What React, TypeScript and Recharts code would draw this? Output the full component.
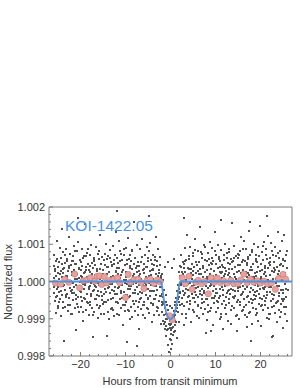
import { ComposedChart, Scatter, XAxis, YAxis, ReferenceLine } from 'recharts';

// raw photometry: [hour * 10, flux offset in ppm]
const RAW_POINTS: number[][] = [
  [-260,420],[-259,-310],[-259,90],[-258,710],[-257,-520],[-257,-60],[-256,330],[-255,-840],[-255,150],[-254,560],[-253,-200],[-253,1080],[-252,-390],[-251,240],[-251,-660],
  [-250,-150],[-249,380],[-249,-720],[-248,60],[-247,520],[-247,-280],[-246,910],[-245,-30],[-245,-460],[-244,270],[-243,-930],[-243,640],[-242,110],[-241,-350],[-241,1420],
  [-240,230],[-239,-560],[-239,780],[-238,-120],[-237,350],[-237,-1590],[-236,40],[-235,490],[-235,-240],[-234,-680],[-233,160],[-233,870],[-232,-410],[-231,-20],[-231,560],
  [-230,-340],[-229,120],[-229,610],[-228,-790],[-227,280],[-227,-70],[-226,1190],[-225,-450],[-225,370],[-224,-180],[-223,750],[-223,-620],[-222,20],[-221,430],[-221,-260],
  [-220,540],[-219,-230],[-219,-880],[-218,170],[-217,690],[-217,-40],[-216,-510],[-215,310],[-215,950],[-214,-300],[-213,60],[-213,-720],[-212,480],[-211,-1300],[-211,200],
  [-210,-90],[-209,460],[-209,-370],[-208,820],[-207,-600],[-207,210],[-206,-150],[-206,1700],[-205,1060],[-205,-410],[-204,330],[-203,-830],[-203,90],[-202,590],[-201,-250],[-201,-10],
  [-200,310],[-199,-690],[-199,140],[-198,-270],[-197,880],[-197,-520],[-196,420],[-195,-60],[-195,-1050],[-194,620],[-193,-190],[-193,240],[-192,-440],[-191,1550],[-191,70],
  [-190,-470],[-189,250],[-189,-100],[-188,680],[-187,-760],[-187,390],[-186,-330],[-185,130],[-185,770],[-184,-580],[-183,-20],[-183,460],[-182,-900],[-181,300],[-181,-150],
  [-180,700],[-179,-120],[-179,-540],[-178,260],[-177,-30],[-177,990],[-176,-380],[-175,510],[-175,-720],[-174,80],[-173,-260],[-173,360],[-172,-1490],[-171,630],[-171,-60],
  [-170,-230],[-169,570],[-169,-810],[-168,180],[-167,430],[-167,-460],[-166,60],[-165,-150],[-165,920],[-164,-640],[-163,290],[-163,-350],[-162,740],[-161,-40],[-161,-980],
  [-160,150],[-159,-400],[-159,830],[-158,-90],[-157,-670],[-157,340],[-156,1240],[-155,-280],[-155,480],[-154,-860],[-153,20],[-153,650],[-152,-510],[-151,200],[-151,-130],
  [-150,-610],[-149,310],[-149,-40],[-148,590],[-147,-330],[-147,-880],[-146,170],[-145,440],[-145,-210],[-144,1010],[-143,-560],[-143,90],[-142,-1460],[-141,380],[-141,610],
  [-140,390],[-139,-170],[-139,690],[-138,-510],[-137,70],[-137,-1000],[-136,260],[-135,-320],[-135,840],[-134,-60],[-133,530],[-133,-750],[-132,120],[-131,-240],[-131,450],
  [-130,-80],[-129,-700],[-129,410],[-128,160],[-127,-430],[-127,960],[-126,-260],[-125,590],[-125,-930],[-124,30],[-123,-150],[-123,720],[-122,-560],[-121,280],[-121,1330],
  [-120,640],[-120,1880],[-119,-330],[-119,-20],[-118,-860],[-117,500],[-117,210],[-116,-590],[-115,1090],[-115,-140],[-114,370],[-113,-460],[-113,90],[-112,820],[-111,-710],[-111,-250],
  [-110,-300],[-109,180],[-109,750],[-108,-450],[-107,-90],[-107,580],[-106,-1170],[-105,310],[-105,-620],[-104,860],[-103,40],[-103,-270],[-102,430],[-101,-30],[-101,-800],
  [-100,260],[-99,-540],[-99,120],[-98,890],[-97,-350],[-97,-60],[-96,470],[-96,-1620],[-95,-760],[-95,200],[-94,1180],[-93,-420],[-93,-130],[-92,610],[-91,-1000],[-91,350],
  [-90,-400],[-89,720],[-89,-210],[-88,30],[-87,540],[-87,-690],[-86,340],[-85,-950],[-85,820],[-84,-80],[-83,-300],[-83,150],[-82,-600],[-81,480],[-81,1610],
  [-80,90],[-79,-220],[-79,620],[-78,-780],[-77,370],[-77,-20],[-76,-520],[-75,990],[-75,-150],[-74,260],[-74,-1730],[-73,-890],[-73,530],[-72,-340],[-71,140],[-71,-1280],
  [-70,-560],[-69,410],[-69,-100],[-68,860],[-67,-270],[-67,190],[-66,-740],[-65,60],[-65,-430],[-64,670],[-63,1150],[-63,-320],[-62,310],[-61,-60],[-61,-620],
  [-60,470],[-59,-130],[-59,-620],[-58,240],[-57,-980],[-57,720],[-56,-40],[-55,380],[-55,-350],[-54,120],[-53,-710],[-53,930],[-52,-200],[-51,560],[-51,-450],
  [-50,-190],[-49,620],[-49,-480],[-48,-30],[-48,1750],[-47,830],[-47,-840],[-46,290],[-45,-260],[-45,1040],[-44,-570],[-43,170],[-43,-90],[-42,480],[-41,-1090],[-41,300],
  [-40,340],[-39,-610],[-39,80],[-38,720],[-37,-260],[-37,-900],[-36,450],[-35,-130],[-35,590],[-34,-470],[-33,210],[-33,1200],[-32,-350],[-31,20],[-31,-780],
  [-30,-220],[-29,560],[-29,-680],[-28,160],[-27,-40],[-27,880],[-26,-520],[-25,310],[-25,-900],[-24,430],[-23,-150],[-23,650],[-22,-380],[-21,90],[-21,-1130],
  [-20,-150],[-20,-560],[-19,200],[-19,-820],[-18,-340],[-17,-610],[-17,40],[-16,-1050],[-16,-420],[-15,-230],[-14,-900],[-14,-560],[-13,-1280],[-13,380],[-12,-700],[-12,-1100],[-11,-360],
  [-10,-1200],[-10,-560],[-9,-880],[-9,-1450],[-8,-1020],[-7,-640],[-7,-1310],[-6,-930],[-6,520],[-5,-1700],[-5,-760],[-4,-1140],[-3,-1880],[-3,-990],[-2,-1250],[-2,-650],[-1,-1540],[-1,-1060],
  [0,-1310],[0,-1820],[1,-980],[1,-1560],[2,-1140],[3,-700],[3,-1690],[4,-1250],[4,350],[5,-910],[5,-1430],[6,-1050],[7,-780],[7,-1360],[8,-950],[8,600],[9,-620],[9,-1180],
  [10,-900],[10,-1340],[11,-560],[12,-1100],[12,-430],[13,-780],[14,-250],[14,-1520],[15,-620],[16,-90],[16,-470],[17,-830],[18,-200],[18,260],[19,-540],[19,-1100],
  [20,-300],[21,420],[22,-620],[22,150],[23,-90],[24,710],[24,-40],[25,-450],[25,260],[26,-880],[27,80],[27,530],[28,-250],[29,-1180],[29,360],[29,1700],
  [30,-120],[30,480],[31,-660],[32,250],[32,890],[33,-310],[34,30],[34,-970],[35,570],[35,-200],[36,140],[37,-540],[37,1250],[38,-60],[39,370],[39,-420],
  [40,600],[40,-380],[41,110],[42,-750],[42,330],[43,-50],[44,920],[44,-610],[45,240],[45,-230],[46,-1080],[47,470],[47,60],[48,-330],[49,760],[49,-170],
  [50,-450],[50,170],[51,690],[52,-90],[52,-820],[53,380],[54,-270],[54,1130],[55,-560],[55,20],[56,520],[57,-350],[57,230],[58,-920],[59,-30],[59,440],
  [60,280],[60,-620],[61,-140],[62,830],[62,-410],[63,60],[64,-990],[64,520],[65,-250],[65,340],[66,1470],[67,-700],[67,-60],[68,190],[69,-480],[69,630],
  [70,-350],[70,750],[71,-200],[72,120],[72,-860],[73,410],[74,-40],[74,-540],[75,970],[75,-310],[76,250],[77,-730],[77,580],[78,-120],[79,-1390],[79,80],
  [80,130],[80,-470],[81,560],[82,-1040],[82,300],[83,-180],[84,760],[84,-630],[85,-20],[85,430],[86,-330],[87,1060],[87,-800],[88,210],[89,-90],[89,490],[89,-1320],
  [90,-720],[90,340],[91,-60],[92,630],[92,-450],[93,890],[94,-260],[94,160],[95,-1180],[95,550],[96,-120],[97,270],[97,-590],[98,1340],[99,20],[99,-380],
  [100,470],[100,-210],[101,-830],[102,180],[102,710],[103,-520],[104,40],[104,-300],[105,990],[105,-700],[106,360],[107,-60],[107,-440],[108,610],[109,-1010],[109,250],
  [110,-30],[110,560],[111,-390],[112,-940],[112,220],[112,1650],[113,850],[114,-160],[114,450],[115,-610],[115,100],[116,-1270],[117,390],[117,-240],[118,720],[119,-530],[119,140],
  [120,360],[120,-700],[121,190],[122,-120],[122,1010],[123,-420],[124,-880],[124,280],[125,-60],[125,640],[126,-320],[127,510],[127,-1060],[128,170],[129,-230],[129,870],
  [130,-580],[130,220],[131,790],[132,-330],[132,-30],[133,470],[134,-1140],[134,610],[135,-200],[135,90],[136,-660],[137,330],[137,1560],[138,-410],[139,-110],[139,540],
  [140,210],[140,-450],[141,-90],[142,960],[142,-720],[143,380],[144,-260],[144,120],[145,-930],[145,680],[146,-20],[147,-540],[147,260],[148,-1320],[149,750],[149,-180],
  [150,-260],[150,640],[151,-510],[152,70],[152,-1010],[153,290],[154,820],[154,-150],[155,-640],[155,430],[156,-360],[157,1190],[157,-40],[158,180],[159,-780],[159,530],
  [160,590],[160,-110],[161,-760],[162,320],[162,-290],[163,1080],[164,-470],[164,40],[165,-890],[165,560],[166,-190],[167,250],[167,-620],[168,880],[169,-1230],[169,130],
  [170,-140],[170,430],[171,-950],[172,230],[172,670],[173,-380],[174,-60],[174,1350],[175,-560],[175,170],[176,-270],[176,1600],[177,720],[177,-830],[178,390],[178,-1590],[179,-10],[179,-470],
  [180,320],[180,-580],[181,120],[182,-1130],[182,850],[183,-220],[184,480],[184,-700],[185,60],[185,-350],[186,1020],[187,-480],[187,240],[188,-90],[189,610],[189,-910],
  [190,-400],[190,150],[191,710],[192,-260],[192,-840],[193,530],[194,-120],[194,380],[195,-1050],[195,920],[196,-330],[197,30],[197,-600],[198,270],[199,1480],[199,-210],
  [200,80],[200,-670],[201,460],[202,-30],[202,-1200],[203,320],[204,-470],[204,790],[205,-180],[205,590],[206,-760],[207,210],[207,-380],[208,1060],[209,-50],[209,410],
  [210,-620],[210,260],[211,-140],[212,880],[212,-430],[213,140],[214,-980],[214,600],[214,1750],[215,-290],[215,-20],[216,370],[217,-710],[217,1210],[218,-160],[219,490],[219,-1010],
  [220,450],[220,-290],[221,-870],[222,170],[222,640],[223,-530],[224,-90],[224,1040],[225,-340],[225,280],[226,-690],[226,-1500],[227,80],[227,-1450],[228,720],[229,-200],[229,350],
  [230,-180],[230,520],[231,-360],[232,-840],[232,310],[233,930],[234,-570],[234,60],[235,-250],[235,680],[236,-1080],[237,400],[237,-120],[238,-520],[239,1330],[239,190],
  [240,270],[240,-760],[241,640],[242,-110],[242,-390],[243,160],[244,-950],[244,820],[245,-230],[245,470],[246,-600],[247,1100],[247,30],[248,-480],[249,-1250],[249,580],
  [250,-310],[250,410],[251,-520],[252,130],[252,1260],[253,-680],[254,-70],[254,550],[255,-880],[255,240],[256,-190],[257,700],[257,-420],[258,-1050],[259,360],[259,60],
];

// second batch of cadences in the same window: [hour * 10, flux offset in ppm]
const RAW_POINTS_B: number[][] = [
  [-258,-150],[-256,270],[-254,-420],[-252,610],[-250,-30],[-248,-560],[-246,190],[-244,-260],[-242,480],[-240,-700],
  [-238,330],[-236,-90],[-234,720],[-232,-350],[-230,150],[-228,-620],[-226,410],[-224,-40],[-222,-880],[-220,260],
  [-218,-310],[-216,560],[-214,-140],[-212,830],[-210,-480],[-208,60],[-206,-690],[-204,350],[-202,-220],[-200,520],
  [-198,-410],[-196,120],[-194,-820],[-192,680],[-190,-60],[-188,300],[-186,-540],[-184,860],[-182,-200],[-180,-640],
  [-178,420],[-176,-330],[-174,190],[-172,-910],[-170,540],[-168,-120],[-166,-480],[-164,330],[-162,-260],[-160,610],
  [-158,-720],[-156,80],[-154,460],[-152,-380],[-150,-20],[-148,-560],[-146,730],[-144,-290],[-142,210],[-140,-820],
  [-138,390],[-136,-140],[-134,620],[-132,-470],[-130,110],[-128,-760],[-126,480],[-124,-330],[-122,260],[-120,-560],
  [-118,350],[-116,-180],[-114,-900],[-112,540],[-110,-90],[-108,260],[-106,-450],[-104,700],[-102,-640],[-100,30],
  [-98,-360],[-96,590],[-94,-210],[-92,-780],[-90,420],[-88,-130],[-86,850],[-84,-520],[-82,190],[-80,-310],
  [-78,640],[-76,-40],[-74,410],[-72,-690],[-70,270],[-68,-480],[-66,520],[-64,-210],[-62,-900],[-60,330],
  [-58,-560],[-56,720],[-54,-100],[-52,390],[-50,-730],[-48,160],[-46,-390],[-44,580],[-42,-250],[-40,-620],
  [-38,300],[-36,-470],[-34,660],[-32,-110],[-30,410],[-28,-700],[-26,240],[-24,-380],[-22,150],
  [-18,-620],[-14,-1140],[-10,-1020],[-6,-1280],[-2,-1160],[2,-1400],[6,-1220],[10,-1060],[14,-700],[18,-420],
  [22,-280],[24,380],[26,-600],[28,210],
  [31,-370],[33,540],[35,-880],[37,120],[39,-230],[41,690],[43,-520],[45,330],[47,-110],[49,-760],
  [51,280],[53,-430],[55,850],[57,-170],[59,450],[61,-660],[63,190],[65,-340],[67,780],[69,-40],
  [71,-590],[73,360],[75,-250],[77,920],[79,-480],[81,70],[83,-820],[85,600],[87,-130],[89,330],
  [91,-700],[93,480],[95,-20],[97,-450],[99,810],[101,-310],[103,140],[105,-560],[107,670],[109,-190],
  [111,400],[113,-870],[115,250],[117,-360],[119,580],[121,-80],[123,-640],[125,760],[127,-260],[129,330],
  [131,-480],[133,110],[135,-770],[137,530],[139,-220],[141,640],[143,-390],[145,60],[147,-910],[149,450],
  [151,-130],[153,720],[155,-560],[157,240],[159,-330],[161,880],[163,-690],[165,170],[167,-50],[169,490],
  [171,-420],[173,610],[175,-840],[177,300],[179,-170],[181,790],[183,-510],[185,130],[187,-280],[189,540],
  [191,-750],[193,260],[195,-90],[197,680],[199,-430],[201,120],[203,-620],[205,940],[207,-210],[209,370],
  [211,-530],[213,700],[215,-360],[217,40],[219,-880],[221,520],[223,-140],[225,830],[227,-460],[229,250],
  [231,-670],[233,310],[235,-30],[237,-560],[239,770],[241,-310],[243,450],[245,-820],[247,190],[249,-240],
  [251,600],[253,-470],[255,120],[257,-690],[259,830],[261,-220],
];

// binned averages: [hour, flux offset in ppm]
const BINNED_POINTS: number[][] = [
  [-25.6,-40],[-24.4,-70],[-23.5,60],[-22.6,-20],[-21.3,200],[-20.2,-170],[-19.4,20],[-18.6,40],
  [-17.8,100],[-16.8,10],[-16.3,140],[-15.8,150],[-15.3,-80],[-14.7,130],[-14.2,-40],[-13.4,30],
  [-12.6,60],[-11.8,100],[-11.3,-30],[-10.0,-430],[-9.4,190],[-8.9,-20],[-8.1,50],[-7.2,60],
  [-6.5,-30],[-5.9,-190],[-5.2,30],[-4.5,60],[-3.7,-50],[-2.9,40],[-2.3,-10],[-0.2,-920],[0.4,-1030],
  [2.6,100],[3.3,-60],[4.1,140],[4.8,-210],[5.6,-20],[6.2,30],[6.9,-60],[7.6,0],[8.4,-330],
  [9.0,100],[9.7,-20],[10.4,90],[11.1,-30],[11.8,20],[12.6,-40],[13.4,30],[14.1,-60],[15.0,-50],
  [15.6,40],[16.3,200],[17.0,-30],[17.8,60],[18.5,-20],[19.3,20],[20.0,-40],[20.8,10],[21.6,-60],
  [22.4,-40],[23.3,-210],[24.0,80],[25.0,190],[25.6,60],
];

// transit model: [hour, flux offset in ppm]
const MODEL_POINTS: number[][] = [
  [-27,0],[-2.2,0],[-2.0,-50],[-1.8,-190],[-1.6,-380],[-1.4,-550],[-1.2,-690],[-1.0,-800],[-0.8,-880],
  [-0.6,-935],[-0.4,-980],[-0.2,-1010],[0,-1020],[0.2,-1010],[0.4,-980],[0.6,-935],[0.8,-880],
  [1.0,-800],[1.2,-690],[1.4,-550],[1.6,-380],[1.8,-190],[2.0,-50],[2.2,0],[27,0],
];

const X_TICKS = [-26,-24,-22,-20,-18,-16,-14,-12,-10,-8,-6,-4,-2,0,2,4,6,8,10,12,14,16,18,20,22,24,26];
const X_LABELED = [-20,-10,0,10,20];
const Y_TICKS = [0.998,0.9982,0.9984,0.9986,0.9988,0.999,0.9992,0.9994,0.9996,0.9998,1,1.0002,1.0004,1.0006,1.0008,1.001,1.0012,1.0014,1.0016,1.0018,1.002];
const Y_LABELED = [0.998,0.999,1,1.001,1.002];

const FONT = '"Liberation Sans", Arial, sans-serif';
const FRAME = '#7a7a7a';

const toFlux = (ppm: number) => 1 + ppm / 1e6;
const raw = [...RAW_POINTS, ...RAW_POINTS_B].map(([t, ppm]) => ({ x: t / 10, y: toFlux(ppm) }));
const binned = BINNED_POINTS.map(([h, ppm]) => ({ x: h, y: toFlux(ppm) }));
const model = MODEL_POINTS.map(([h, ppm]) => ({ x: h, y: toFlux(ppm) }));

function XTick(props: any) {
  const { x, y, payload } = props;
  const major = X_LABELED.includes(payload.value);
  const v = payload.value;
  return (
    <g>
      <line x1={x} x2={x} y1={y} y2={y - (major ? 4 : 2)} stroke={FRAME} />
      {major && (
        <text x={x} y={y + 12} textAnchor="middle" fontSize={11} fontFamily={FONT} fill="#333">
          {v < 0 ? '\u2212' + Math.abs(v) : String(v)}
        </text>
      )}
    </g>
  );
}

function YTick(props: any) {
  const { x, y, payload } = props;
  const major = Y_LABELED.some((m) => Math.abs(m - payload.value) < 1e-7);
  return (
    <g>
      <line x1={x} x2={x + (major ? 4 : 2)} y1={y} y2={y} stroke={FRAME} />
      {major && (
        <text x={x - 4} y={y + 4} textAnchor="end" fontSize={11} fontFamily={FONT} fill="#333">
          {payload.value.toFixed(3)}
        </text>
      )}
    </g>
  );
}

const grayDot = (p: any) => (
  <rect x={Math.round(p.cx) - 1} y={Math.round(p.cy) - 1} width={2} height={2} fill="#505050" />
);

const redDot = (p: any) => (
  <circle cx={p.cx} cy={p.cy} r={3.1} fill="#e9a19b" stroke="#c27670" strokeWidth={0.6} />
);

const noDot = () => <g />;

export default function App() {
  return (
    <div style={{ position: 'absolute', left: 0, top: 0, width: 300, height: 388 }}>
      <ComposedChart width={300} height={388} margin={{ top: 207, right: 8, bottom: 0, left: 0 }}>
        <XAxis
          type="number"
          dataKey="x"
          domain={[-27, 27]}
          ticks={X_TICKS}
          interval={0}
          height={32}
          tickSize={0}
          tickMargin={0}
          tickLine={false}
          tick={XTick}
          axisLine={{ stroke: FRAME }}
          allowDataOverflow
        />
        <YAxis
          type="number"
          dataKey="y"
          domain={[0.998, 1.002]}
          ticks={Y_TICKS}
          interval={0}
          width={49}
          tickSize={0}
          tickMargin={0}
          tickLine={false}
          tick={YTick}
          axisLine={{ stroke: FRAME }}
          allowDataOverflow
        />
        <ReferenceLine y={1.002} stroke={FRAME} />
        <ReferenceLine x={27} stroke={FRAME} />
        <Scatter data={raw} dataKey="y" shape={grayDot} isAnimationActive={false} />
        <Scatter data={binned} dataKey="y" shape={redDot} isAnimationActive={false} />
        <Scatter
          data={model}
          dataKey="y"
          shape={noDot}
          line={{ stroke: '#4f93e2', strokeWidth: 1.8 }}
          lineType="joint"
          isAnimationActive={false}
        />
      </ComposedChart>
      <svg
        width={300}
        height={388}
        style={{ position: 'absolute', left: 0, top: 0, pointerEvents: 'none' }}
      >
        <text x={65} y={231} fontSize={15.5} fontFamily={FONT} fill="#4a90e2">
          KOI-1422.05
        </text>
        <text
          x={12}
          y={282}
          transform="rotate(-90 12 282)"
          textAnchor="middle"
          fontSize={11}
          fontFamily={FONT}
          fill="#333"
        >
          Normalized flux
        </text>
        <text x={170} y={385} textAnchor="middle" fontSize={11} fontFamily={FONT} fill="#333">
          Hours from transit minimum
        </text>
      </svg>
    </div>
  );
}
